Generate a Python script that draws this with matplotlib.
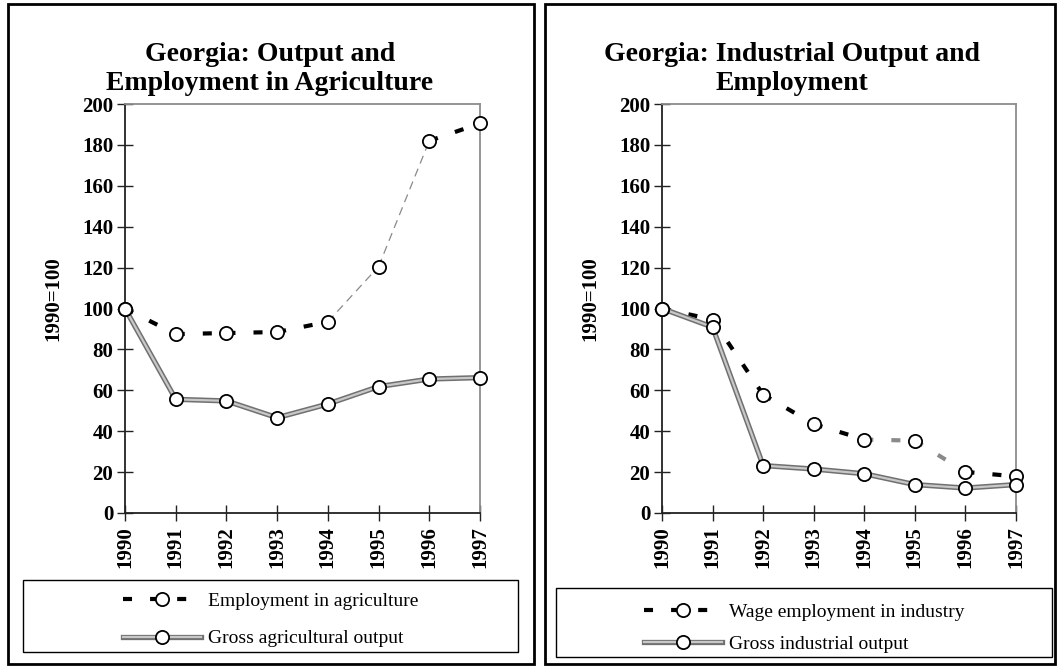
import matplotlib
matplotlib.use("Agg")
import matplotlib.pyplot as plt
import matplotlib.patheffects as pe
from matplotlib.patches import Rectangle
from matplotlib.lines import Line2D
from matplotlib.legend_handler import HandlerTuple

plt.rcParams['font.family'] = ['Liberation Serif', 'DejaVu Serif']
plt.rcParams['lines.scale_dashes'] = False

W, H = 1058, 668

# datos (1990=100)
years = [1990, 1991, 1992, 1993, 1994, 1995, 1996, 1997]
agri_employment = [100, 87.5, 88, 88.5, 93.5, 120.5, 182, 190.5]
agri_output = [100, 55.6, 54.8, 46.6, 53.3, 61.8, 65.5, 66.2]
ind_employment = [100, 94.6, 57.9, 43.5, 35.9, 35.4, 20.1, 17.9]
ind_output = [100, 90.9, 23.2, 21.5, 19.2, 13.9, 12.2, 13.9]
yticks = [0, 20, 40, 60, 80, 100, 120, 140, 160, 180, 200]

agri_titles = "Georgia: Output and\nEmployment in Agriculture"
ind_titles = "Georgia: Industrial Output and\nEmployment"
agri_labels = ["Employment in agriculture", "Gross agricultural output"]
ind_labels = ["Wage employment in industry", "Gross industrial output"]

# tramos con otro estilo (año inicial del tramo)
agri_faded = [1994, 1995]
ind_faded = [1994, 1995]


def fx(x):
    return x / W


def fy(y):
    return 1 - y / H


out_effects = [pe.Stroke(linewidth=3.8, foreground='#707070'), pe.Normal()]
dash_kw = dict(color='black', lw=3, dashes=(6.5, 13), dash_capstyle='butt')
marker_kw = dict(ls='none', marker='o', mfc='white', mec='black', ms=9.5, mew=1.3)


def draw_panel(ax, emp, out, faded, faded_kw):
    ax.plot(years, out, color='#c8c8c8', lw=1.6, path_effects=out_effects,
            solid_joinstyle='miter', zorder=3, clip_on=False)
    for i in range(len(years) - 1):
        kw = faded_kw if years[i] in faded else dash_kw
        ax.plot(years[i:i + 2], emp[i:i + 2], zorder=2, clip_on=False, **kw)
    ax.plot(years, emp, zorder=5, clip_on=False, **marker_kw)
    ax.plot(years, out, zorder=5, clip_on=False, **marker_kw)

    ax.set_xlim(1990, 1997)
    ax.set_ylim(0, 200)
    ax.set_xticks(years)
    ax.set_xticklabels([str(y) for y in years], rotation=90)
    ax.set_yticks(yticks)
    for lab in ax.get_xticklabels() + ax.get_yticklabels():
        lab.set_fontsize(15)
        lab.set_fontweight('bold')
    ax.tick_params(axis='both', direction='inout', length=11, width=1, color='#222')
    ax.tick_params(axis='y', pad=3)
    ax.tick_params(axis='x', pad=4)
    for s in ['left', 'bottom']:
        ax.spines[s].set_color('#222')
        ax.spines[s].set_linewidth(1.3)
    for s in ['top', 'right']:
        ax.spines[s].set_color('#8c8c8c')
        ax.spines[s].set_linewidth(1.3)


fig = plt.figure(figsize=(W / 100, H / 100), dpi=100)

panels = [
    dict(box=(8, 4, 534, 664), axes=(125, 104, 480, 513), title=agri_titles, tx=270,
         ylab_x=53, emp=agri_employment, out=agri_output, faded=agri_faded,
         faded_kw=dict(color='#8a8a8a', lw=0.9, dashes=(6, 4)),
         labels=agri_labels, leg=(23, 580, 518, 652), shift=4, spacing=1.0),
    dict(box=(545, 4, 1055, 664), axes=(662, 104, 1016, 513), title=ind_titles, tx=792,
         ylab_x=590, emp=ind_employment, out=ind_output, faded=ind_faded,
         faded_kw=dict(color='#8a8a8a', lw=3, dashes=(6.5, 13), dash_capstyle='butt'),
         labels=ind_labels, leg=(556, 588, 1052, 657), shift=5.5, spacing=0.75),
]

for p in panels:
    x0, y0, x1, y1 = p['box']
    fig.patches.append(Rectangle((fx(x0), fy(y1)), fx(x1 - x0), (y1 - y0) / H,
                                 transform=fig.transFigure, fill=False,
                                 ec='black', lw=2))
    a0, b0, a1, b1 = p['axes']
    ax = fig.add_axes([fx(a0), fy(b1), fx(a1 - a0), (b1 - b0) / H])
    draw_panel(ax, p['emp'], p['out'], p['faded'], p['faded_kw'])

    fig.text(fx(p['tx']), fy(69), p['title'], ha='center', va='center',
             fontsize=20, fontweight='bold', linespacing=1.18)
    fig.text(fx(p['ylab_x']), fy((b0 + b1) / 2 - 10), "1990=100", rotation=90,
             ha='center', va='center', fontsize=15, fontweight='bold')

    l0, m0, l1, m1 = p['leg']
    fig.patches.append(Rectangle((fx(l0), fy(m1)), fx(l1 - l0), (m1 - m0) / H,
                                 transform=fig.transFigure, fill=False,
                                 ec='black', lw=1))
    h_emp = Line2D([], [], **dash_kw)
    h_out = Line2D([], [], color='#c8c8c8', lw=1.6, path_effects=out_effects)
    h_mk = Line2D([], [], **marker_kw)
    fig.legend([(h_emp, h_mk), (h_out, h_mk)], p['labels'], loc='center',
               bbox_to_anchor=(fx((l0 + l1) / 2), fy((m0 + m1) / 2 + p['shift'])),
               frameon=False, fontsize=14, handlelength=4.0, handletextpad=0.35,
               labelspacing=p['spacing'], numpoints=1,
               handler_map={tuple: HandlerTuple(ndivide=1)})

fig.savefig("out.png", dpi=100)
